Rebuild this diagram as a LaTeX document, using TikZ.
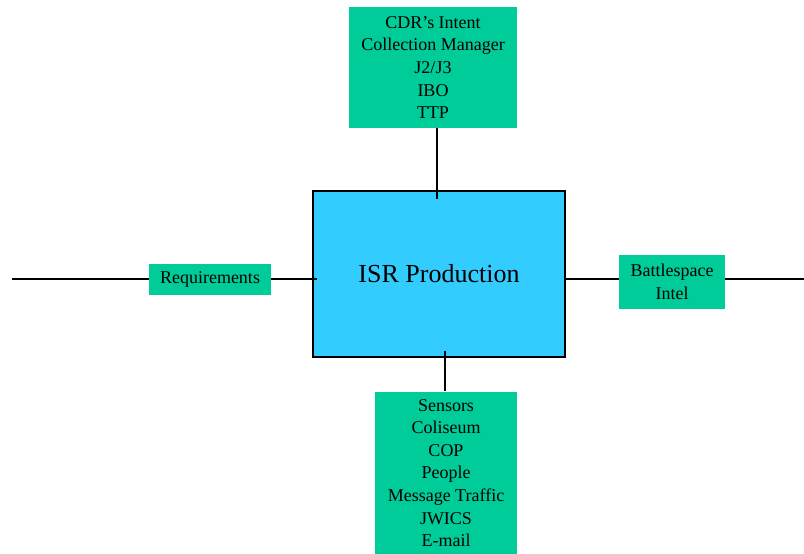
\documentclass[tikz,border=0pt]{standalone}
\usepackage{fontspec}
\setmainfont{Liberation Serif}
\definecolor{boxgreen}{RGB}{0,204,153}
\definecolor{boxblue}{RGB}{51,204,255}
\begin{document}
\begin{tikzpicture}[x=1pt,y=-1pt,
  inbox/.style={fill=boxgreen,draw=none,inner sep=0pt,align=center,
    font=\fontsize{18}{22.6}\selectfont},
  link/.style={line width=2pt}]
\useasboundingbox (0,0) rectangle (804,554);
% central process box
\node[draw=black,line width=2pt,fill=boxblue,minimum width=252pt,minimum height=166pt,
  inner sep=0pt,font=\fontsize{26}{30}\selectfont] (main) at (439,274) {ISR Production};
% surrounding boxes
\node[inbox,minimum width=168pt,minimum height=121pt] (ctrl) at (433,67.5)
  {CDR’s Intent\\Collection Manager\\J2/J3\\IBO\\TTP};
\node[inbox,minimum width=122pt,minimum height=31pt] (req) at (210,279) {Requirements};
\node[inbox,minimum width=106pt,minimum height=54pt] (bat) at (672,282) {Battlespace\\Intel};
\node[inbox,minimum width=142pt,minimum height=163pt] (mech) at (446,473)
  {Sensors\\Coliseum\\COP\\People\\Message Traffic\\JWICS\\E-mail};
% connector end points
\coordinate (tin) at (437,199);
\coordinate (lend) at (12,279);
\coordinate (lin) at (317,279);
\coordinate (rin) at (565,279);
\coordinate (rend) at (804,279);
\coordinate (bin) at (445,351);
% connectors
\draw[link] (tin |- ctrl.south) -- (tin);
\draw[link] (lend) -- (lend -| req.west);
\draw[link] (lin -| req.east) -- (lin);
\draw[link] (rin) -- (rin -| bat.west);
\draw[link] (rin -| bat.east) -- (rend);
\draw[link] (bin) -- (bin |- mech.north);
\end{tikzpicture}
\end{document}
